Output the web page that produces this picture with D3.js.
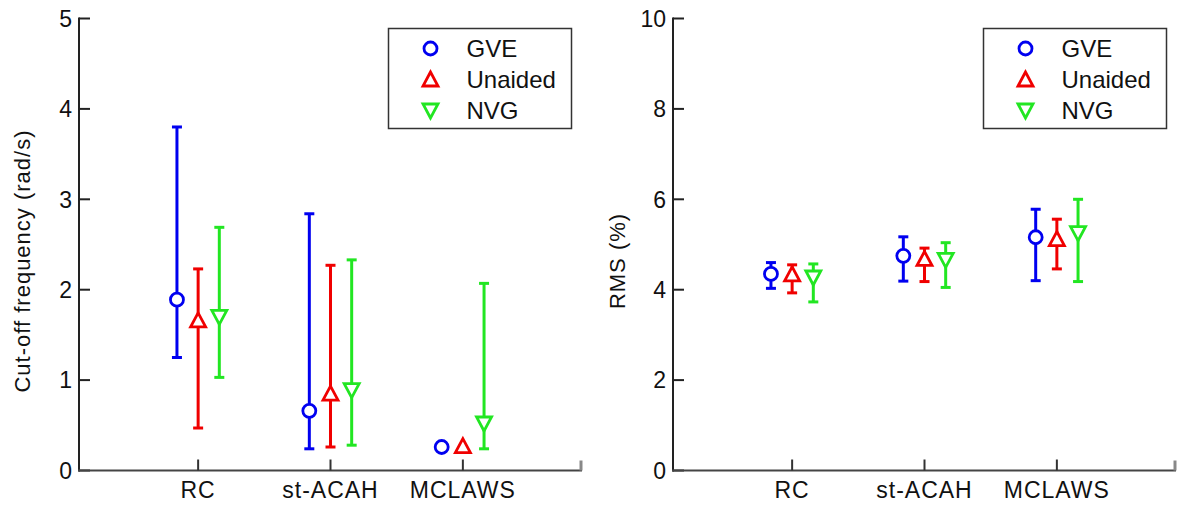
<!DOCTYPE html>
<html>
<head>
<meta charset="utf-8">
<script src="https://cdn.jsdelivr.net/npm/d3@7"></script>
<style>
  html, body { margin: 0; padding: 0; background: #fff; }
  svg { display: block; }
  text { font-family: "Liberation Sans", Arial, Helvetica, sans-serif; fill: #111; }
</style>
</head>
<body>
<svg id="chart" width="1178" height="510"></svg>
<script>
// ---- data ----
const categories = ["RC", "st-ACAH", "MCLAWS"];
const seriesNames = ["GVE", "Unaided", "NVG"];
const seriesColors = ["#0000f0", "#f00000", "#22e622"];
const seriesMarkers = ["circle", "triangleUp", "triangleDown"];

// Cut-off frequency (rad/s): [series][category]
const cutoffMean = [[1.89, 0.66, 0.26], [1.66, 0.85, 0.27], [1.70, 0.89, 0.52]];
const cutoffLow  = [[1.25, 0.24, null], [0.47, 0.26, null], [1.03, 0.28, 0.24]];
const cutoffHigh = [[3.80, 2.84, null], [2.23, 2.27, null], [2.69, 2.33, 2.07]];

// RMS (%): [series][category]
const rmsMean = [[4.35, 4.75, 5.16], [4.34, 4.68, 5.12], [4.27, 4.66, 5.25]];
const rmsLow  = [[4.03, 4.19, 4.20], [3.93, 4.18, 4.46], [3.73, 4.05, 4.18]];
const rmsHigh = [[4.60, 5.17, 5.78], [4.55, 4.92, 5.56], [4.57, 5.04, 6.00]];

const cutoffTicks = [0, 1, 2, 3, 4, 5];
const rmsTicks = [0, 2, 4, 6, 8, 10];

// ---- drawing ----
const svg = d3.select("#chart");
const seriesOffset = [-0.16, 0, 0.16];

function drawPanel(opt) {
  const g = svg.append("g");
  const x = d3.scaleLinear().domain([0.1, 3.9]).range([opt.x0, opt.x1]);
  const y = d3.scaleLinear().domain([0, opt.ymax]).range([470.5, 18.5]);

  // y axis
  g.append("line").attr("x1", opt.x0).attr("x2", opt.x0)
    .attr("y1", y(opt.ymax) - 1).attr("y2", y(0) + 1)
    .attr("stroke", "#222").attr("stroke-width", 2);
  g.selectAll(".yt").data(opt.ticks).enter().append("line")
    .attr("x1", opt.x0).attr("x2", opt.x0 + 11)
    .attr("y1", d => y(d)).attr("y2", d => y(d))
    .attr("stroke", "#222").attr("stroke-width", 2);
  g.selectAll(".yl").data(opt.ticks).enter().append("text")
    .attr("x", opt.x0 - 7).attr("y", d => y(d))
    .attr("dy", "0.36em").attr("text-anchor", "end")
    .style("font-size", "23px").text(d => d);

  // x axis
  g.append("line").attr("x1", opt.x0 - 1).attr("x2", opt.x1)
    .attr("y1", y(0)).attr("y2", y(0))
    .attr("stroke", "#444").attr("stroke-width", 2);
  g.selectAll(".xt").data(categories).enter().append("line")
    .attr("x1", (d, i) => x(i + 1)).attr("x2", (d, i) => x(i + 1))
    .attr("y1", y(0)).attr("y2", y(0) - 11)
    .attr("stroke", "#333").attr("stroke-width", 2);
  g.append("line").attr("x1", opt.x1 - 1).attr("x2", opt.x1 - 1)
    .attr("y1", y(0)).attr("y2", y(0) - 10)
    .attr("stroke", "#888").attr("stroke-width", 3);
  g.selectAll(".xl").data(categories).enter().append("text")
    .attr("x", (d, i) => x(i + 1)).attr("y", 498)
    .attr("text-anchor", "middle")
    .style("font-size", "23px").style("letter-spacing", "1px").text(d => d);

  // y label
  g.append("text")
    .attr("transform", `translate(${opt.labelX},261) rotate(-90)`)
    .attr("text-anchor", "middle").attr("dy", "0.36em")
    .style("font-size", "22px").style("letter-spacing", "1px").text(opt.label);

  // series
  seriesNames.forEach((name, s) => {
    const col = seriesColors[s];
    const sg = g.append("g");
    categories.forEach((c, i) => {
      const cx = x(i + 1 + seriesOffset[s]);
      const lo = opt.low[s][i], hi = opt.high[s][i];
      if (lo !== null && hi !== null) {
        sg.append("line").attr("x1", cx).attr("x2", cx)
          .attr("y1", y(lo)).attr("y2", y(hi))
          .attr("stroke", col).attr("stroke-width", 3);
        [lo, hi].forEach(v => {
          sg.append("line").attr("x1", cx - 5).attr("x2", cx + 5)
            .attr("y1", y(v)).attr("y2", y(v))
            .attr("stroke", col).attr("stroke-width", 3);
        });
      }
      drawMarker(sg, seriesMarkers[s], cx, y(opt.mean[s][i]), col);
    });
  });

  // legend
  const lg = g.append("g");
  lg.append("rect").attr("x", opt.legX).attr("y", 28.5)
    .attr("width", 183).attr("height", 100)
    .attr("fill", "#fff").attr("stroke", "#333").attr("stroke-width", 1.5);
  seriesNames.forEach((name, s) => {
    const ry = 48.5 + s * 31;
    drawMarker(lg, seriesMarkers[s], opt.legX + 42, ry, seriesColors[s]);
    lg.append("text").attr("x", opt.legX + 78).attr("y", ry)
      .attr("dy", "0.36em").style("font-size", "24px").text(name);
  });
}

function drawMarker(g, type, cx, cy, col) {
  if (type === "circle") {
    g.append("circle").attr("cx", cx).attr("cy", cy).attr("r", 6.5)
      .attr("fill", "#fff").attr("stroke", col).attr("stroke-width", 2.8);
  } else {
    const up = type === "triangleUp" ? 1 : -1;
    const pts = [[cx, cy - 7.5 * up], [cx - 7.5, cy + 6.5 * up], [cx + 7.5, cy + 6.5 * up]];
    g.append("polygon").attr("points", pts.map(p => p.join(",")).join(" "))
      .attr("fill", "#fff").attr("stroke", col).attr("stroke-width", 2.8)
      .attr("stroke-linejoin", "miter");
  }
}

drawPanel({
  x0: 79, x1: 582, ymax: 5, ticks: cutoffTicks,
  mean: cutoffMean, low: cutoffLow, high: cutoffHigh,
  label: "Cut-off frequency (rad/s)", labelX: 22, legX: 388.5
});
drawPanel({
  x0: 673, x1: 1176, ymax: 10, ticks: rmsTicks,
  mean: rmsMean, low: rmsLow, high: rmsHigh,
  label: "RMS (%)", labelX: 617, legX: 983.5
});
</script>
</body>
</html>
